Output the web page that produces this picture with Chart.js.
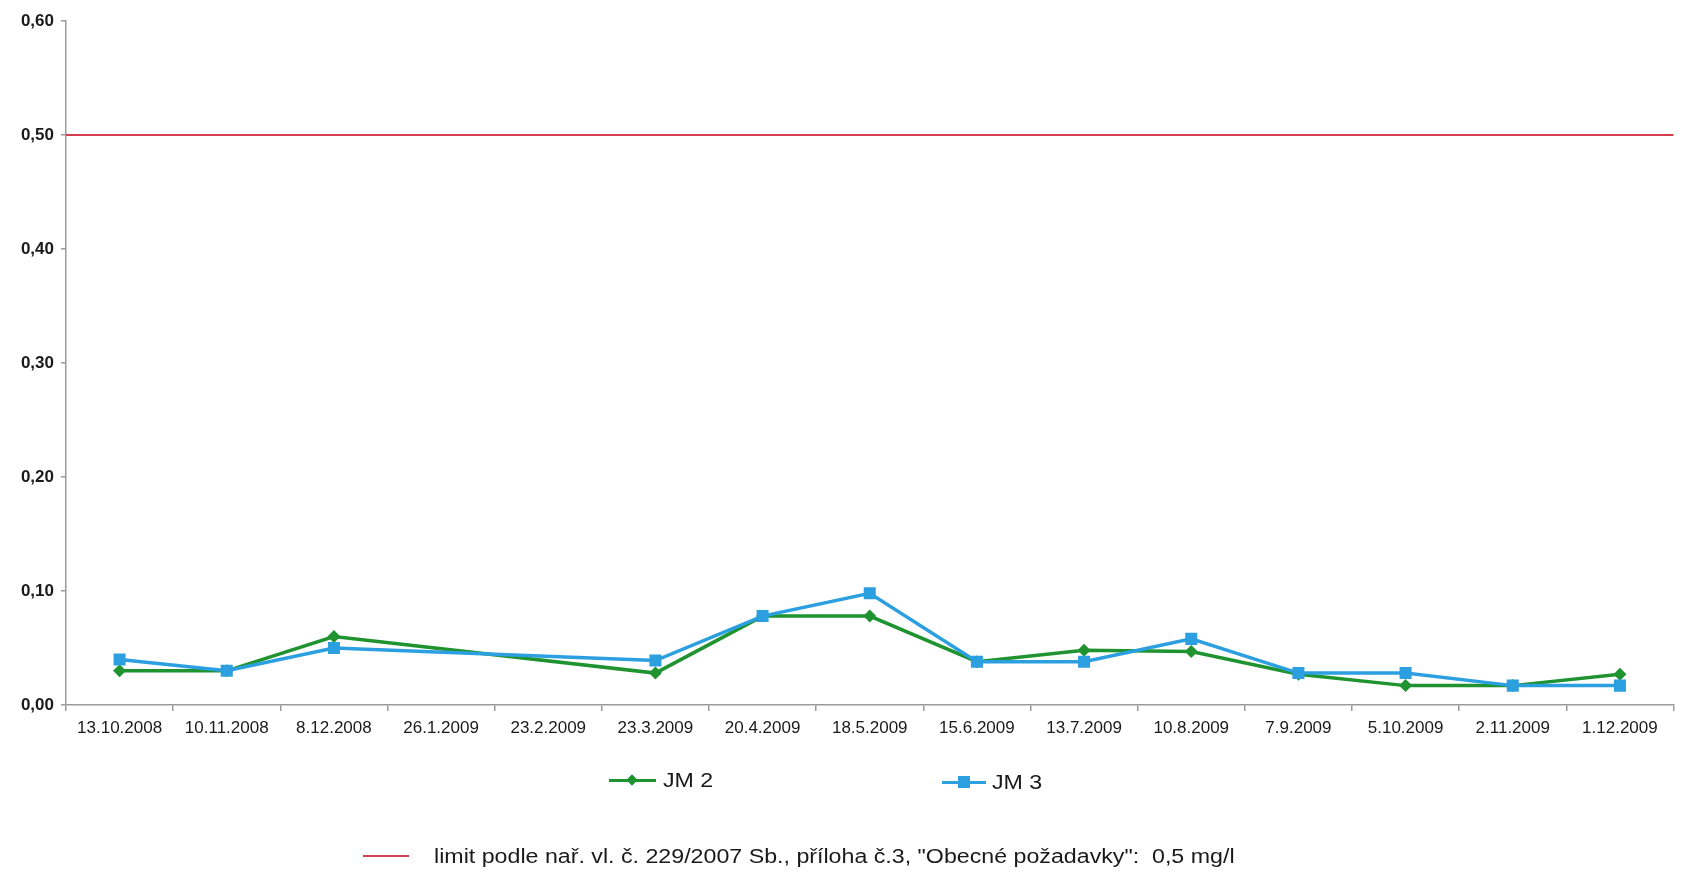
<!DOCTYPE html>
<html lang="cs">
<head>
<meta charset="utf-8">
<title>JM 2, JM 3</title>
<script src="https://cdn.jsdelivr.net/npm/chart.js@4/dist/chart.umd.min.js"></script>
<style>
  html, body { margin: 0; padding: 0; background: #ffffff; }
  #wrap { position: relative; width: 1682px; height: 877px; overflow: hidden; background: #fff; }
  #chart { position: absolute; left: 0; top: 0; }
  .lg { position: absolute; font-family: "Liberation Sans", Arial, sans-serif; color: #1a1a1a; white-space: nowrap; }
  .lg .txt { position: absolute; top: 0; line-height: 1; transform-origin: 0 50%; transform: scaleX(1.16); }
  .sample { position: absolute; height: 3px; }
  .mk { position: absolute; }
</style>
</head>
<body>
<div id="wrap">
  <canvas id="chart" width="1682" height="877"></canvas>

  <div class="lg" id="lg-jm2" style="left:609px; top:770px;">
    <div class="sample" style="left:0; top:9px; width:47px; background:#1f9330;"></div>
    <div class="mk" style="left:19px; top:6px; width:8px; height:8px; background:#1f9330; transform:rotate(45deg);"></div>
    <span class="txt" style="left:54px; font-size:20px;">JM 2</span>
  </div>

  <div class="lg" id="lg-jm3" style="left:942px; top:772px;">
    <div class="sample" style="left:0; top:9px; width:44px; background:#2c9fe0;"></div>
    <div class="mk" style="left:16px; top:4px; width:12px; height:12px; background:#2c9fe0;"></div>
    <span class="txt" style="left:50px; font-size:20px;">JM 3</span>
  </div>

  <div class="lg" id="lg-limit" style="left:363px; top:846px;">
    <div class="sample" style="left:0; top:9px; width:46px; height:2px; background:#d23f4e;"></div>
    <span class="txt" style="left:71px; font-size:20px;">limit podle nař. vl. č. 229/2007 Sb., příloha č.3, "Obecné požadavky":&nbsp; 0,5 mg/l</span>
  </div>
</div>

<script>
// Sampling dates
const dates = [
  '13.10.2008', '10.11.2008', '8.12.2008', '26.1.2009', '23.2.2009',
  '23.3.2009', '20.4.2009', '18.5.2009', '15.6.2009', '13.7.2009',
  '10.8.2009', '7.9.2009', '5.10.2009', '2.11.2009', '1.12.2009'
];

// Measured concentrations, mg/l (null = no sample taken)
const jm2 = [0.030, 0.030, 0.060, null, null, 0.028, 0.078, 0.078, 0.038, 0.048, 0.047, 0.027, 0.017, 0.017, 0.027];
const jm3 = [0.040, 0.030, 0.050, null, null, 0.039, 0.078, 0.098, 0.038, 0.038, 0.058, 0.028, 0.028, 0.017, 0.017];

// Limit value, mg/l
const limitValue = 0.5;

// Y axis range and step
const yMin = 0;
const yMax = 0.6;
const yStep = 0.1;

// Horizontal limit line across the whole plot area
const limitLine = {
  id: 'limitLine',
  beforeDatasetsDraw(chart) {
    const { ctx, chartArea, scales } = chart;
    const y = scales.y.getPixelForValue(limitValue);
    ctx.save();
    ctx.strokeStyle = '#d23f4e';
    ctx.lineWidth = 2;
    ctx.beginPath();
    ctx.moveTo(chartArea.left, y);
    ctx.lineTo(chartArea.right, y);
    ctx.stroke();
    ctx.restore();
  }
};

const axisGrey = '#9a9a9a';
const fontFamily = '"Liberation Sans", Arial, sans-serif';

new Chart(document.getElementById('chart'), {
  type: 'line',
  data: {
    labels: dates,
    datasets: [
      {
        label: 'JM 2',
        data: jm2,
        borderColor: '#1f9330',
        backgroundColor: '#1f9330',
        borderWidth: 3.5,
        pointStyle: 'rectRot',
        pointRadius: 6.5,
        pointBorderWidth: 0,
        tension: 0,
        spanGaps: true,
        order: 2
      },
      {
        label: 'JM 3',
        data: jm3,
        borderColor: '#2c9fe0',
        backgroundColor: '#2c9fe0',
        borderWidth: 3.5,
        pointStyle: 'rect',
        pointRadius: 8.5,
        pointBorderWidth: 0,
        tension: 0,
        spanGaps: true,
        order: 1
      }
    ]
  },
  options: {
    responsive: false,
    animation: false,
    devicePixelRatio: 1,
    layout: { padding: { left: 0, right: 3, top: 21, bottom: 0 } },
    plugins: {
      legend: { display: false },
      tooltip: { enabled: false }
    },
    scales: {
      x: {
        type: 'category',
        offset: true,
        grid: {
          offset: true,
          drawOnChartArea: false,
          drawTicks: true,
          tickLength: 6,
          color: axisGrey,
          lineWidth: 1.5
        },
        border: { display: true, color: axisGrey, width: 1.5 },
        ticks: {
          color: '#1a1a1a',
          font: { family: fontFamily, size: 17 },
          padding: 7,
          maxRotation: 0,
          autoSkip: false
        },
        afterFit(scale) { scale.height = 172; }
      },
      y: {
        min: yMin,
        max: yMax,
        grid: {
          drawOnChartArea: false,
          drawTicks: true,
          tickLength: 5,
          color: axisGrey,
          lineWidth: 1.5
        },
        border: { display: true, color: axisGrey, width: 1.5 },
        ticks: {
          stepSize: yStep,
          color: '#1a1a1a',
          font: { family: fontFamily, size: 17, weight: 'bold' },
          padding: 7,
          callback: v => v.toFixed(2).replace('.', ',')
        },
        afterFit(scale) { scale.width = 66; }
      }
    }
  },
  plugins: [limitLine]
});
</script>
</body>
</html>
